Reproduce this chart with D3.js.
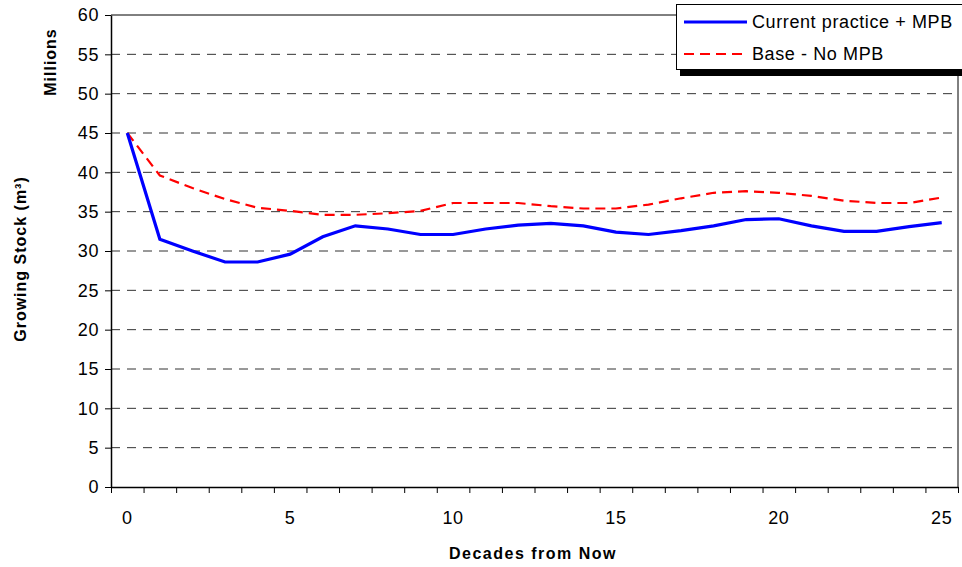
<!DOCTYPE html>
<html lang="en">
<head>
<meta charset="utf-8">
<script src="https://cdn.jsdelivr.net/npm/d3@7"></script>
<style>
  body { margin: 0; background: #fff; }
  svg text { font-family: "Liberation Sans", Arial, sans-serif; }
</style>
</head>
<body>
<div id="chart"></div>
<script>
// data (growing stock, millions of m3)
var decades = d3.range(0, 26);
var currentPractice = [45.0, 31.5, 30.0, 28.6, 28.6, 29.6, 31.8, 33.2, 32.8, 32.1, 32.1, 32.8, 33.3, 33.5, 33.2, 32.4, 32.1, 32.6, 33.2, 34.0, 34.1, 33.2, 32.5, 32.5, 33.1, 33.6];
var baseNoMPB = [45.0, 39.6, 38.0, 36.6, 35.5, 35.1, 34.6, 34.6, 34.8, 35.1, 36.1, 36.1, 36.1, 35.7, 35.4, 35.4, 35.9, 36.7, 37.4, 37.6, 37.4, 37.0, 36.4, 36.1, 36.1, 36.8];
var yTicks = [0, 5, 10, 15, 20, 25, 30, 35, 40, 45, 50, 55, 60];
var xLabels = [0, 5, 10, 15, 20, 25];
var seriesNames = ["Current practice + MPB", "Base - No MPB"];

var W = 962, H = 567;
// plot area edges (don't use "top" - that's window.top)
var pLeft = 111, pRight = 958, pTop = 15, pBottom = 487;

var svg = d3.select("#chart").append("svg")
  .attr("width", W)
  .attr("height", H);

var x = d3.scaleBand().domain(decades).range([pLeft, pRight]).padding(0);
var xb = d3.scaleLinear().domain([0, decades.length]).range([pLeft, pRight]);
var y = d3.scaleLinear().domain([0, 60]).range([pBottom, pTop]);
var cx = function(d) { return x(d) + x.bandwidth() / 2; };

// dashed gridlines
svg.append("g")
  .selectAll("line")
  .data(yTicks.filter(function(t) { return t > 0 && t < 60; }))
  .enter().append("line")
  .attr("x1", pLeft).attr("x2", pRight)
  .attr("y1", function(d) { return y(d); })
  .attr("y2", function(d) { return y(d); })
  .style("stroke", "#333")
  .style("stroke-width", 1)
  .style("stroke-dasharray", "9,7");

// frame top and right
svg.append("line").attr("x1", pLeft).attr("x2", pRight).attr("y1", pTop).attr("y2", pTop)
  .style("stroke", "#000");
svg.append("line").attr("x1", pRight).attr("x2", pRight).attr("y1", pTop).attr("y2", pBottom)
  .style("stroke", "#000");

// y axis
var yAxis = d3.axisLeft(y).tickValues(yTicks).tickSize(6).tickSizeOuter(0).tickPadding(6);
var yG = svg.append("g").attr("transform", "translate(" + pLeft + ",0)").call(yAxis);
yG.selectAll("path").style("stroke", "#000").style("stroke-width", 1.5);
yG.selectAll("line").style("stroke", "#000");
yG.selectAll("text").style("font-size", "18px").style("letter-spacing", "0.6px").style("fill", "#000");

// x axis, ticks between categories
var xAxis = d3.axisBottom(xb).tickValues(d3.range(0, decades.length + 1)).tickFormat("").tickSize(6).tickSizeOuter(0);
var xG = svg.append("g").attr("transform", "translate(0," + pBottom + ")").call(xAxis);
xG.selectAll("path").style("stroke", "#000").style("stroke-width", 1.5);
xG.selectAll("line").style("stroke", "#000");

svg.append("g").selectAll("text")
  .data(xLabels)
  .enter().append("text")
  .attr("x", function(d) { return cx(d); })
  .attr("y", 524)
  .attr("text-anchor", "middle")
  .style("font-size", "18px")
  .style("letter-spacing", "0.6px")
  .text(function(d) { return d; });

// axis titles
svg.append("text")
  .attr("x", 533).attr("y", 559)
  .attr("text-anchor", "middle")
  .style("font-size", "16px").style("font-weight", "bold").style("letter-spacing", "1.5px")
  .text("Decades from Now");

svg.append("text")
  .attr("transform", "translate(26,259) rotate(-90)")
  .attr("text-anchor", "middle")
  .style("font-size", "16px").style("font-weight", "bold").style("letter-spacing", "1px")
  .text("Growing Stock (m³)");

svg.append("text")
  .attr("transform", "translate(56,62) rotate(-90)")
  .attr("text-anchor", "middle")
  .style("font-size", "16px").style("font-weight", "bold").style("letter-spacing", "1px")
  .text("Millions");

// lines
var line = d3.line()
  .x(function(d, i) { return cx(decades[i]); })
  .y(function(d) { return y(d); });

svg.append("path").datum(baseNoMPB)
  .attr("d", line)
  .style("fill", "none")
  .style("stroke", "#ff0000")
  .style("stroke-width", 2.2)
  .style("stroke-dasharray", "10,6");

svg.append("path").datum(currentPractice)
  .attr("d", line)
  .style("fill", "none")
  .style("stroke", "#0000ff")
  .style("stroke-width", 3.2);

// legend
var lg = svg.append("g");
lg.append("rect").attr("x", 680).attr("y", 9).attr("width", 290).attr("height", 67).style("fill", "#000");
lg.append("rect").attr("x", 676.5).attr("y", 4.5).attr("width", 290).attr("height", 65)
  .style("fill", "#fff").style("stroke", "#000").style("stroke-width", 1);
lg.append("line").attr("x1", 684).attr("x2", 747).attr("y1", 22).attr("y2", 22)
  .style("stroke", "#0000ff").style("stroke-width", 3.2);
lg.append("line").attr("x1", 684).attr("x2", 747).attr("y1", 54).attr("y2", 54)
  .style("stroke", "#ff0000").style("stroke-width", 2.2).style("stroke-dasharray", "10,6");
lg.selectAll("text.leg")
  .data(seriesNames)
  .enter().append("text")
  .attr("class", "leg")
  .attr("x", 752)
  .attr("y", function(d, i) { return 28 + i * 32; })
  .style("font-size", "18px")
  .style("letter-spacing", "0.6px")
  .text(function(d) { return d; });
</script>
</body>
</html>
